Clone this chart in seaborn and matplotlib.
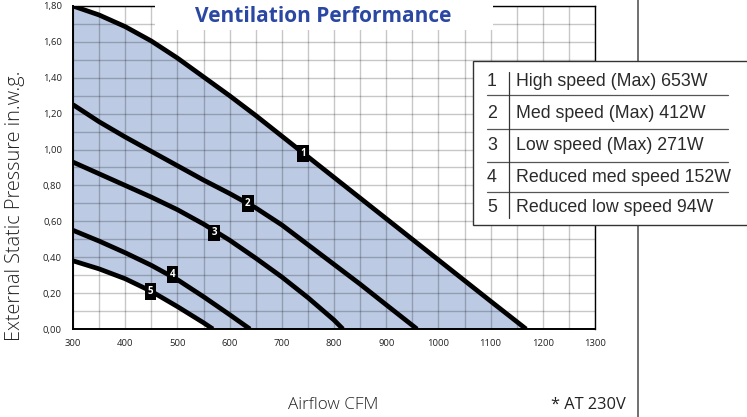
import numpy as np
import pandas as pd
import matplotlib
matplotlib.use("Agg")
import matplotlib.pyplot as plt
import seaborn as sns
from matplotlib.patches import Rectangle
from matplotlib.lines import Line2D

# ---- data ----
cfm_1 = [300, 350, 400, 450, 500, 550, 600, 650, 700, 750, 800, 850, 900, 950, 1000, 1050, 1100, 1168]
esp_1 = [1.80, 1.75, 1.685, 1.605, 1.51, 1.405, 1.30, 1.19, 1.075, 0.96, 0.845, 0.73, 0.615, 0.50, 0.385, 0.27, 0.155, 0.0]
cfm_2 = [300, 350, 400, 450, 500, 550, 600, 650, 700, 750, 800, 850, 900, 959]
esp_2 = [1.25, 1.155, 1.07, 0.99, 0.91, 0.83, 0.755, 0.675, 0.58, 0.47, 0.36, 0.25, 0.135, 0.0]
cfm_3 = [300, 350, 400, 450, 500, 550, 600, 650, 700, 750, 800, 817]
esp_3 = [0.93, 0.865, 0.80, 0.735, 0.665, 0.585, 0.495, 0.395, 0.29, 0.175, 0.05, 0.0]
cfm_4 = [300, 350, 400, 450, 500, 550, 600, 639]
esp_4 = [0.55, 0.49, 0.425, 0.355, 0.275, 0.18, 0.08, 0.0]
cfm_5 = [300, 350, 400, 450, 500, 550, 568]
esp_5 = [0.38, 0.335, 0.28, 0.21, 0.125, 0.035, 0.0]

curve_ids = ["1", "2", "3", "4", "5"]
legend_labels = ["High speed (Max) 653W", "Med speed (Max) 412W", "Low speed (Max) 271W",
                 "Reduced med speed 152W", "Reduced low speed 94W"]
label_cfm = [741, 635, 570, 490, 448]
label_esp = [0.98, 0.70, 0.535, 0.305, 0.21]

x_ticks = list(range(300, 1301, 100))
y_ticks = [0.0, 0.2, 0.4, 0.6, 0.8, 1.0, 1.2, 1.4, 1.6, 1.8]
y_tick_labels = ["0,00", "0,20", "0,40", "0,60", "0,80", "1,00", "1,20", "1,40", "1,60", "1,80"]

title_text = "Ventilation Performance"
x_label = "Airflow CFM"
y_label = "External Static Pressure in.w.g."
note_text = "* AT 230V"

# ---- style ----
sns.set_style("white")
plt.rcParams["font.family"] = ["Open Sans", "DejaVu Sans"]

W, H = 747, 417
fig = plt.figure(figsize=(W / 100, H / 100), dpi=100)
fig.patch.set_facecolor("white")


def fx(px):
    return px / W


def fy(py):
    return 1 - py / H


ax = fig.add_axes([fx(73), fy(329), fx(595) - fx(73), fy(6) - fy(329)])

# long-form data for seaborn
frames = []
for cid, xs, ys in zip(curve_ids, [cfm_1, cfm_2, cfm_3, cfm_4, cfm_5],
                       [esp_1, esp_2, esp_3, esp_4, esp_5]):
    frames.append(pd.DataFrame({"cfm": xs, "esp": ys, "curve": cid}))
df = pd.concat(frames, ignore_index=True)

# shaded operating region between curve 1 and curve 5
x_all = np.unique(np.concatenate([cfm_1, cfm_5]))
upper = np.interp(x_all, cfm_1, esp_1)
lower = np.interp(x_all, cfm_5, esp_5, right=0.0)
ax.fill_between(x_all, lower, upper, color="#bccae3", lw=0, zorder=1)

sns.lineplot(data=df, x="cfm", y="esp", hue="curve", palette=["black"] * 5,
             estimator=None, linewidth=3.4, legend=False, ax=ax, zorder=3)
for line in ax.get_lines():
    line.set_solid_capstyle("butt")
    line.set_solid_joinstyle("round")

ax.set_xlim(300, 1300)
ax.set_ylim(0, 1.8)
ax.set_xticks(x_ticks)
ax.set_xticklabels([str(v) for v in x_ticks])
ax.set_yticks(y_ticks)
ax.set_yticklabels(y_tick_labels)
ax.set_xticks(np.arange(300, 1301, 50), minor=True)
ax.set_yticks(np.arange(0, 1.81, 0.1), minor=True)
ax.grid(which="both", color="black", alpha=0.22, lw=1.0)
ax.set_axisbelow(False)
ax.tick_params(which="both", length=0, labelsize=6.8, colors="#222222")
ax.tick_params(axis="x", pad=7)
ax.tick_params(axis="y", pad=8)
ax.set_xlabel("")
ax.set_ylabel("")
for s in ["left", "bottom"]:
    ax.spines[s].set_color("black")
    ax.spines[s].set_linewidth(1.4)
for s in ["top", "right"]:
    ax.spines[s].set_color("black")
    ax.spines[s].set_linewidth(1.0)

# curve number markers
for cid, xv, yv in zip(curve_ids, label_cfm, label_esp):
    ax.text(xv, yv, cid, ha="center", va="center", color="white", fontsize=7,
            fontweight="bold", zorder=6,
            bbox=dict(boxstyle="square,pad=0.3", fc="black", ec="none"))

# title with white backing box
fig.add_artist(Rectangle((fx(155), fy(30)), fx(493) - fx(155), fy(0) - fy(30),
                         transform=fig.transFigure, facecolor="white",
                         edgecolor="none", zorder=5))
fig.text(fx(323), fy(17), title_text, ha="center", va="center", fontsize=15,
         fontweight="bold", color="#2a47a3", zorder=6)

# axis labels
fig.text(fx(15), fy(206), y_label, rotation=90, ha="center", va="center",
         fontsize=14.3, color="#222222", fontweight="light")
fig.text(fx(333), fy(405), x_label, ha="center", va="center", fontsize=12.3,
         color="#222222", fontweight="light")
fig.text(fx(588), fy(405), note_text, ha="center", va="center", fontsize=11.8,
         color="#222222")

# vertical separator line
fig.add_artist(Line2D([fx(638), fx(638)], [0, 1], transform=fig.transFigure,
                      color="#707070", lw=1.4, zorder=4))

# legend table
fig.add_artist(Rectangle((fx(473), fy(225)), fx(760) - fx(473), fy(61) - fy(225),
                         transform=fig.transFigure, facecolor="white",
                         edgecolor="#333333", lw=1.0, zorder=6))
for yy in [95, 129, 162, 192]:
    fig.add_artist(Line2D([fx(487), fx(728)], [fy(yy), fy(yy)], transform=fig.transFigure,
                          color="#555555", lw=0.9, zorder=7))
fig.add_artist(Line2D([fx(509), fx(509)], [fy(72), fy(218)], transform=fig.transFigure,
                      color="#333333", lw=0.9, zorder=7))
row_y = [82, 113, 145, 178, 207]
for cid, lab, yy in zip(curve_ids, legend_labels, row_y):
    fig.text(fx(492), fy(yy), cid, ha="center", va="center", fontsize=12.8,
             family=["Liberation Sans", "DejaVu Sans"], color="#2a2a2a", zorder=8)
    fig.text(fx(516), fy(yy), lab, ha="left", va="center", fontsize=12.8,
             family=["Liberation Sans", "DejaVu Sans"], color="#2a2a2a", zorder=8)

fig.savefig("out.png", dpi=100, facecolor="white")
